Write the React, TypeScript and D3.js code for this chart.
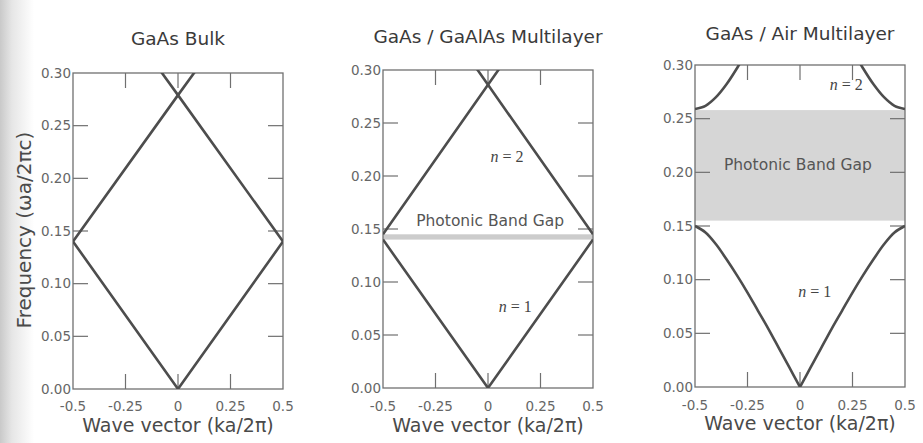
import React from 'react'
import * as d3 from 'd3'

// wave vector ticks and frequency ticks shared by the three panels
const kTicks = [-0.5, -0.25, 0, 0.25, 0.5]
const kTickLabels = ['-0.5', '-0.25', '0', '0.25', '0.5']
const freqTicks = [0, 0.05, 0.1, 0.15, 0.2, 0.25, 0.3]
const freqTickLabels = ['0.00', '0.05', '0.10', '0.15', '0.20', '0.25', '0.30']

const titles = ['GaAs Bulk', 'GaAs / GaAlAs Multilayer', 'GaAs / Air Multilayer']

// GaAs bulk: folded light line
const bulkBand1 = [[-0.5, 0.14], [0, 0], [0.5, 0.14]]
const bulkBand2a = [[-0.5, 0.14], [0, 0.279], [0.08, 0.301]]
const bulkBand2b = [[0.5, 0.14], [0, 0.279], [-0.08, 0.301]]

// GaAs / GaAlAs: tiny gap at the zone edge
const alBand1 = [[-0.5, 0.14], [0, 0], [0.5, 0.14]]
const alBand2a = [[-0.5, 0.145], [0, 0.286], [0.06, 0.303]]
const alBand2b = [[0.5, 0.145], [0, 0.286], [-0.06, 0.303]]
const alGap = [0.14, 0.145]

// GaAs / Air: wide gap (band 1 kept as two halves so the kink at k=0 stays sharp)
const airBand1Left = [
  [-0.5, 0.15], [-0.45, 0.144], [-0.4, 0.133], [-0.35, 0.119], [-0.3, 0.104],
  [-0.25, 0.088], [-0.2, 0.071], [-0.15, 0.054], [-0.1, 0.036], [-0.05, 0.018], [0, 0],
]
const airBand1Right = [
  [0, 0], [0.05, 0.018], [0.1, 0.036], [0.15, 0.054], [0.2, 0.071], [0.25, 0.088],
  [0.3, 0.104], [0.35, 0.119], [0.4, 0.133], [0.45, 0.144], [0.5, 0.15],
]
const airBand2a = [[-0.5, 0.259], [-0.45, 0.262], [-0.4, 0.27], [-0.35, 0.282], [-0.3, 0.297], [-0.27, 0.307]]
const airBand2b = [[0.5, 0.259], [0.45, 0.262], [0.4, 0.27], [0.35, 0.282], [0.3, 0.297], [0.27, 0.307]]
const airGap = [0.155, 0.258]

const panels = [
  { x0: 73, x1: 283, y0: 73, y1: 389, titleY: 45, tickY: 411, labelY: 432, smooth: false,
    bands: [bulkBand1, bulkBand2a, bulkBand2b], gap: null, gapText: null, nLabels: [] },
  { x0: 383, x1: 593, y0: 70, y1: 388, titleY: 43, tickY: 411, labelY: 432, smooth: false,
    bands: [alBand1, alBand2a, alBand2b], gap: alGap, gapText: { k: 0.01, w: 0.153 },
    nLabels: [{ k: 0.09, w: 0.213, t: '2' }, { k: 0.13, w: 0.072, t: '1' }] },
  { x0: 695, x1: 905, y0: 65, y1: 387, titleY: 40, tickY: 410, labelY: 430, smooth: true,
    bands: [airBand1Left, airBand1Right, airBand2a, airBand2b], gap: airGap, gapText: { k: -0.01, w: 0.202 },
    nLabels: [{ k: 0.22, w: 0.277, t: '2' }, { k: 0.07, w: 0.084, t: '1' }] },
]

const sans = 'DejaVu Sans, sans-serif'
const axisColor = '#707070'
const textColor = '#4a4a4a'

function Panel({ p, i }) {
  const x = d3.scaleLinear().domain([-0.5, 0.5]).range([p.x0, p.x1])
  const y = d3.scaleLinear().domain([0, 0.3]).range([p.y1, p.y0])
  const line = d3.line().x(d => x(d[0])).y(d => y(d[1]))
    .curve(p.smooth ? d3.curveCatmullRom : d3.curveLinear)
  const tl = 15
  const clipId = 'clip' + i
  return (
    <g>
      <defs>
        <clipPath id={clipId}>
          <rect x={p.x0} y={p.y0} width={p.x1 - p.x0} height={p.y1 - p.y0} />
        </clipPath>
      </defs>
      {p.gap && (
        <rect x={p.x0} width={p.x1 - p.x0} y={y(p.gap[1])} height={y(p.gap[0]) - y(p.gap[1])}
          fill={i === 1 ? '#cccccc' : '#d6d6d6'} />
      )}
      <text x={(p.x0 + p.x1) / 2} y={p.titleY} textAnchor="middle" fontFamily={sans} fontSize={18.5} fill="#3a3a3a">{titles[i]}</text>
      {/* inward ticks on all four sides */}
      {freqTicks.slice(1, -1).map(t => (
        <g key={'y' + t} stroke={axisColor} strokeWidth={1.2}>
          <line x1={p.x0} x2={p.x0 + tl} y1={y(t)} y2={y(t)} />
          <line x1={p.x1} x2={p.x1 - tl} y1={y(t)} y2={y(t)} />
        </g>
      ))}
      {kTicks.slice(1, -1).map(t => (
        <g key={'x' + t} stroke={axisColor} strokeWidth={1.2}>
          <line x1={x(t)} x2={x(t)} y1={p.y1} y2={p.y1 - tl} />
          <line x1={x(t)} x2={x(t)} y1={p.y0} y2={p.y0 + tl} />
        </g>
      ))}
      <rect x={p.x0} y={p.y0} width={p.x1 - p.x0} height={p.y1 - p.y0} fill="none" stroke={axisColor} strokeWidth={1.3} />
      {freqTicks.map((t, j) => (
        <text key={'yl' + t} x={p.x0 - 2} y={y(t)} dy="0.35em" textAnchor="end" fontFamily={sans} fontSize={13.5} fill="#666">{freqTickLabels[j]}</text>
      ))}
      {kTicks.map((t, j) => (
        <text key={'xl' + t} x={x(t)} y={p.tickY} textAnchor="middle" fontFamily={sans} fontSize={13.5} fill="#666">{kTickLabels[j]}</text>
      ))}
      <text x={(p.x0 + p.x1) / 2} y={p.labelY} textAnchor="middle" fontFamily={sans} fontSize={19} fill={textColor}>Wave vector (ka/2π)</text>
      <g clipPath={`url(#${clipId})`}>
        {p.bands.map((b, j) => (
          <path key={j} d={line(b)} fill="none" stroke="#4d4d4d" strokeWidth={2.6} strokeLinejoin="round" />
        ))}
      </g>
      {p.gapText && (
        <text x={x(p.gapText.k)} y={y(p.gapText.w)} textAnchor="middle" fontFamily={sans} fontSize={15.5} fill="#555">Photonic Band Gap</text>
      )}
      {p.nLabels.map((n, j) => (
        <text key={'n' + j} x={x(n.k)} y={y(n.w)} textAnchor="middle" fontFamily="Liberation Serif, serif" fontSize={16} fill="#444">
          <tspan fontStyle="italic">n</tspan> = {n.t}
        </text>
      ))}
    </g>
  )
}

export default function App() {
  return (
    <svg width={923} height={443} style={{ position: 'absolute', left: 0, top: 0, background: '#fff' }}>
      <defs>
        <linearGradient id="gutter" x1="0" x2="1" y1="0" y2="0">
          <stop offset="0" stopColor="#c9c9c9" />
          <stop offset="0.35" stopColor="#e6e6e6" />
          <stop offset="1" stopColor="#ffffff" />
        </linearGradient>
      </defs>
      <rect x={0} y={0} width={923} height={443} fill="#fff" />
      <rect x={0} y={0} width={34} height={443} fill="url(#gutter)" />
      <text transform="translate(31,230) rotate(-90)" textAnchor="middle" fontFamily={sans} fontSize={20} fill={textColor}>Frequency (ωa/2πc)</text>
      {panels.map((p, i) => <Panel key={i} p={p} i={i} />)}
    </svg>
  )
}
